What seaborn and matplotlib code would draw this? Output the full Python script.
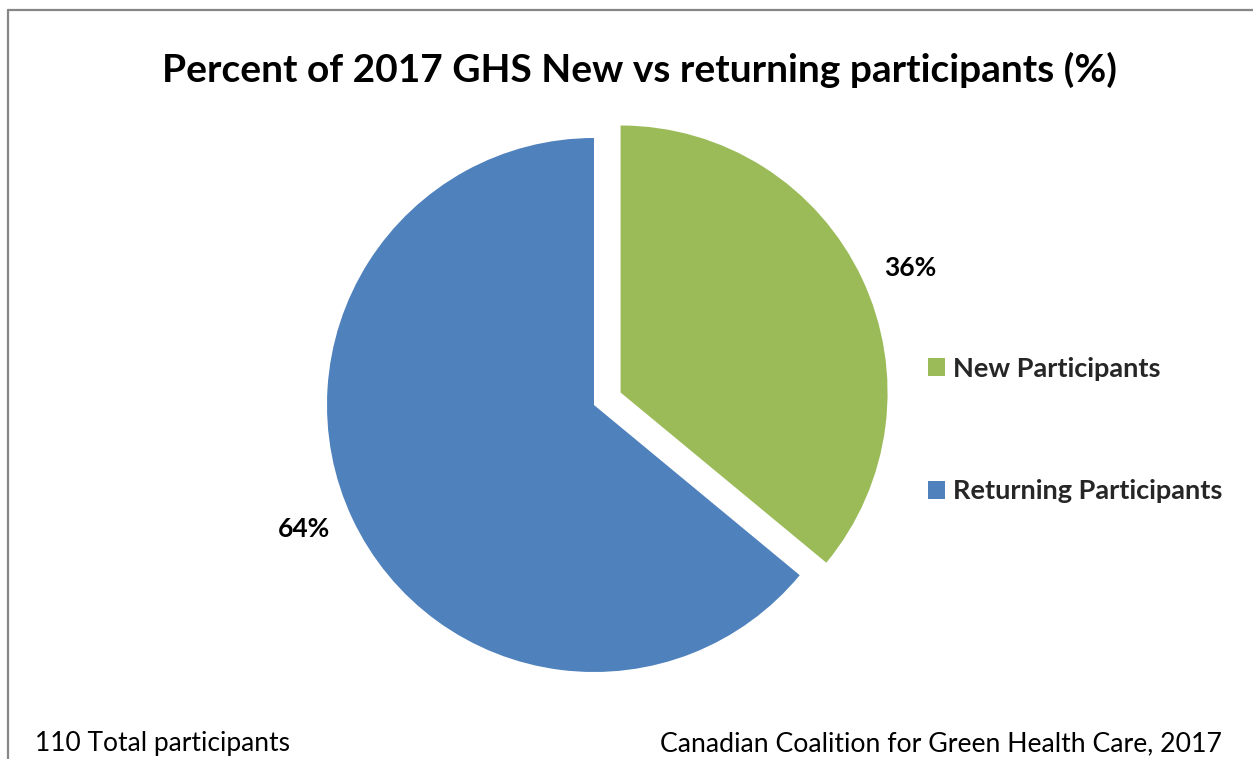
import matplotlib
matplotlib.use("Agg")
import numpy as np
import matplotlib.pyplot as plt
from matplotlib.lines import Line2D
import seaborn as sns

# Participant mix for the 2017 GHS, in percent
categories = ["New Participants", "Returning Participants"]
shares = [36, 64]
colors = ["#9BBB59", "#4F81BD"]
title = "Percent of 2017 GHS New vs returning participants (%)"
note_left = "110 Total participants"
note_right = "Canadian Coalition for Green Health Care, 2017"

sns.set_theme(style="white")
plt.rcParams["font.family"] = ["Lato", "DejaVu Sans"]

W, H = 1253, 759
fig = plt.figure(figsize=(W / 100, H / 100), dpi=100)
fig.patch.set_facecolor("white")

# Pie axes: centre (594, 405) px, radius 267 px
cx, cy, r, half = 594, 405, 267, 300
ax = fig.add_axes([(cx - half) / W, (H - cy - half) / H, 2 * half / W, 2 * half / H])
wedges, _ = ax.pie(
    shares,
    colors=colors,
    startangle=90,
    counterclock=False,
    explode=[0.11, 0.0],
    radius=1.0,
    wedgeprops=dict(linewidth=0),
)

# Percentage labels just outside each wedge, along (roughly) its mid angle
for w, s in zip(wedges, shares):
    mid = np.deg2rad((w.theta1 + w.theta2) / 2 - 2.0)
    x0, y0 = w.center
    ax.text(x0 + 1.18 * np.cos(mid), y0 + 1.18 * np.sin(mid), f"{s:.0f}%",
            ha="center", va="center", fontsize=19, fontweight="bold", color="black")

lim = half / r
ax.set_xlim(-lim, lim)
ax.set_ylim(-lim, lim)
ax.set_aspect("equal", adjustable="datalim")
ax.axis("off")

fig.text(640 / W, 1 - 70 / H, title, ha="center", va="center",
         fontsize=28, fontweight="bold", color="black")

leg = fig.legend(
    wedges, categories,
    loc="center left", bbox_to_anchor=(928 / W, 1 - 430 / H),
    frameon=False, borderpad=0, borderaxespad=0,
    handlelength=0.63, handleheight=0.63, handletextpad=0.3,
    labelspacing=3.65, prop=dict(size=19.5, weight="bold"),
)

fig.text(35 / W, 1 - 744 / H, note_left, ha="left", va="center", fontsize=19, color="black")
fig.text(1222 / W, 1 - 744 / H, note_right, ha="right", va="center", fontsize=19.2, color="black")

# Chart frame (left and top edges)
fig.add_artist(Line2D([7.5 / W, 7.5 / W], [0, 1 - 9.5 / H], transform=fig.transFigure,
                      color="#868686", linewidth=1.6))
fig.add_artist(Line2D([7.5 / W, 1], [1 - 9.5 / H, 1 - 9.5 / H], transform=fig.transFigure,
                      color="#868686", linewidth=1.6))

fig.savefig("out.png", dpi=100, facecolor="white")
